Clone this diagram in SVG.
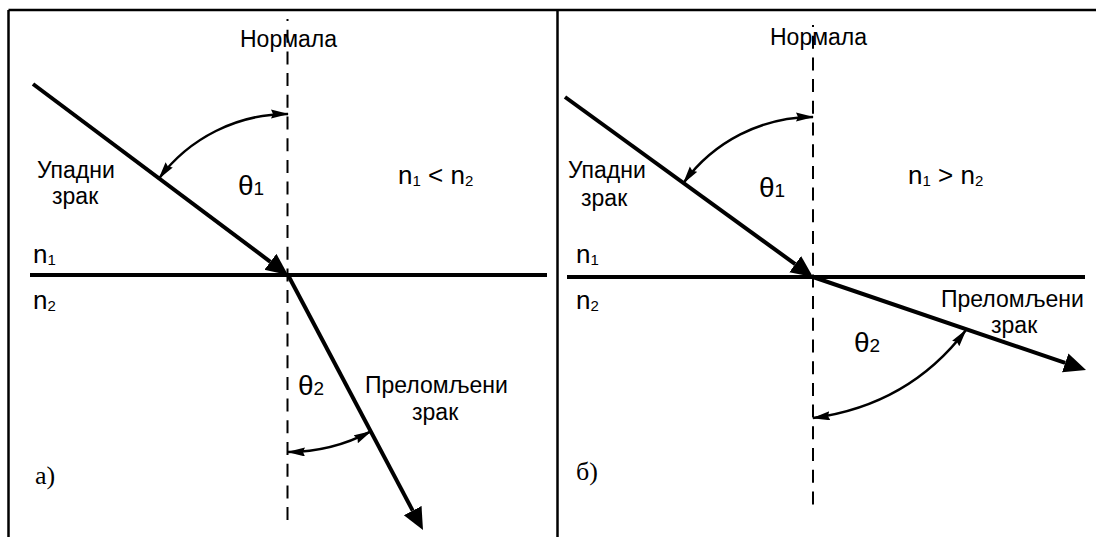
<svg xmlns="http://www.w3.org/2000/svg" width="1096" height="537" viewBox="0 0 1096 537">
<defs>
<style>
.frame{stroke:#000;stroke-width:2.5;fill:none}
.iface{stroke:#000;stroke-width:4;fill:none}
.ray{stroke:#000;stroke-width:4;fill:none}
.normal{stroke:#000;stroke-width:2;fill:none;stroke-dasharray:13 8.7;stroke-dashoffset:11}
.arc{stroke:#000;stroke-width:2.5;fill:none}
text{font-family:"Liberation Sans",Arial,sans-serif;fill:#000}
.lbl{font-size:23px}
.idx{font-size:26px}
.th{font-size:28px}
.sub{font-size:19px}
.nsub{font-size:15px}
.ser{font-family:"Liberation Serif","Times New Roman",serif;font-size:26px}
</style>
<marker id="big" markerUnits="userSpaceOnUse" markerWidth="24" markerHeight="22" refX="0" refY="10" orient="auto">
<path d="M0,0 L22,10 L0,20 z" fill="#000"/>
</marker>
<marker id="sm" markerUnits="userSpaceOnUse" markerWidth="20" markerHeight="10" refX="17" refY="4.5" orient="auto-start-reverse">
<path d="M0,0 L18,4.5 L0,9 L2,4.5 z" fill="#000"/>
</marker>
</defs>
<rect width="1096" height="537" fill="#fff"/>

<g id="frame">
<line class="frame" x1="8.5" y1="10" x2="1096" y2="10"/>
<line class="frame" x1="8.5" y1="10" x2="8.5" y2="537"/>
<line class="frame" x1="557.5" y1="10" x2="557.5" y2="537"/>
</g>

<g id="connectors">
<!-- left panel -->
<line class="normal" x1="287.5" y1="19" x2="287.5" y2="520"/>
<line class="iface" x1="30" y1="275" x2="547" y2="275"/>
<line class="ray" x1="33" y1="84" x2="270.4" y2="261.8" marker-end="url(#big)"/>
<line class="ray" x1="288" y1="275" x2="412.7" y2="510.6" marker-end="url(#big)"/>
<path class="arc" d="M159,178.5 A161,161 0 0 1 288,114" marker-start="url(#sm)" marker-end="url(#sm)"/>
<path class="arc" d="M288,452 A177,177 0 0 0 370.8,431.4" marker-start="url(#sm)" marker-end="url(#sm)"/>
<!-- right panel -->
<line class="normal" x1="813" y1="25" x2="813" y2="513"/>
<line class="iface" x1="567" y1="277" x2="1085" y2="277"/>
<line class="ray" x1="565" y1="97" x2="795.2" y2="264.1" marker-end="url(#big)"/>
<line class="ray" x1="813" y1="277" x2="1065.2" y2="362.9" marker-end="url(#big)"/>
<path class="arc" d="M683.5,183 A160,160 0 0 1 813,117" marker-start="url(#sm)" marker-end="url(#sm)"/>
<path class="arc" d="M813,418 Q909,405 966,330" marker-start="url(#sm)" marker-end="url(#sm)"/>
</g>

<g id="panel-a">
<text class="lbl" x="240" y="47">Нормала</text>
<text class="lbl" x="37" y="178">Упадни</text>
<text class="lbl" x="52" y="204">зрак</text>
<text x="238" y="195"><tspan class="th">θ</tspan><tspan class="sub">1</tspan></text>
<text x="398" y="184"><tspan class="idx">n</tspan><tspan class="nsub" dy="2">1</tspan><tspan class="idx" dy="-2"> &lt; n</tspan><tspan class="nsub" dy="2">2</tspan></text>
<text x="33" y="263"><tspan class="idx">n</tspan><tspan class="nsub" dy="2">1</tspan></text>
<text x="33" y="309"><tspan class="idx">n</tspan><tspan class="nsub" dy="2">2</tspan></text>
<text x="298" y="395"><tspan class="th">θ</tspan><tspan class="sub">2</tspan></text>
<text class="lbl" x="365" y="393">Преломљени</text>
<text class="lbl" x="412" y="420">зрак</text>
<text class="ser" x="35" y="484">а)</text>
</g>

<g id="panel-b">
<text class="lbl" x="770" y="45">Нормала</text>
<text class="lbl" x="568" y="178">Упадни</text>
<text class="lbl" x="581" y="206">зрак</text>
<text x="759" y="197"><tspan class="th">θ</tspan><tspan class="sub">1</tspan></text>
<text x="908" y="184"><tspan class="idx">n</tspan><tspan class="nsub" dy="2">1</tspan><tspan class="idx" dy="-2"> &gt; n</tspan><tspan class="nsub" dy="2">2</tspan></text>
<text x="576" y="263"><tspan class="idx">n</tspan><tspan class="nsub" dy="2">1</tspan></text>
<text x="576" y="309"><tspan class="idx">n</tspan><tspan class="nsub" dy="2">2</tspan></text>
<text x="854" y="352"><tspan class="th">θ</tspan><tspan class="sub">2</tspan></text>
<text class="lbl" x="941" y="307">Преломљени</text>
<text class="lbl" x="991" y="333">зрак</text>
<text class="ser" x="576" y="480">б)</text>
</g>
</svg>
